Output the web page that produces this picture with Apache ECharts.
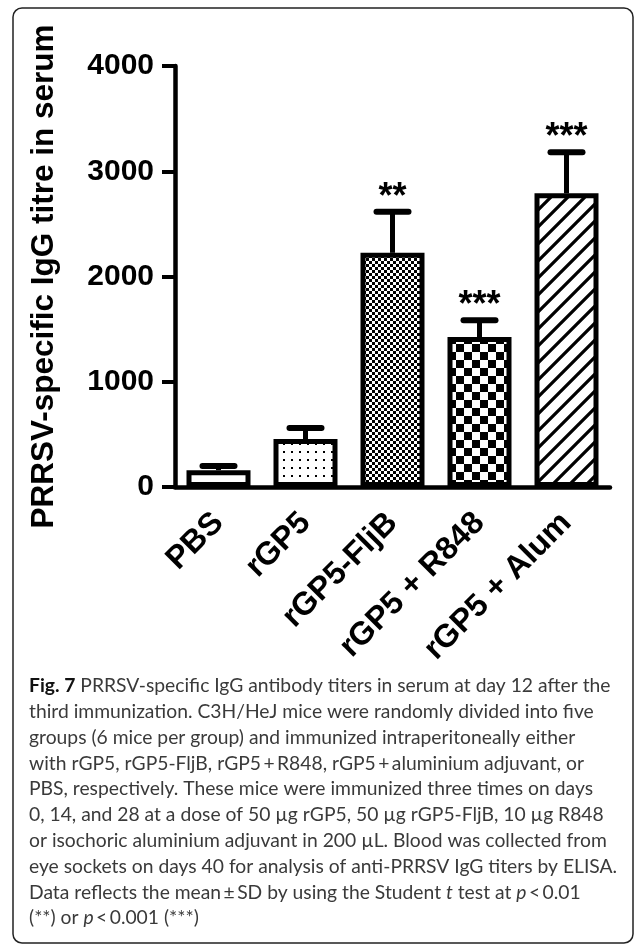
<!DOCTYPE html>
<html><head><meta charset="utf-8">
<script src="https://cdn.jsdelivr.net/npm/echarts@6/dist/echarts.min.js"></script>
<style>html,body{margin:0;padding:0;background:#fff}#c{width:634px;height:947px}</style>
</head><body><div id="c"></div>
<script>
// ---- data ----
const categories = ['PBS', 'rGP5', 'rGP5-FljB', 'rGP5 + R848', 'rGP5 + Alum'];
const means = [160, 455, 2225, 1425, 2790];
const sds = [40, 105, 390, 160, 390];
const stars = ['', '', '**', '***', '***'];
const yTickValues = [0, 1000, 2000, 3000, 4000];
const yAxisTitle = 'PRRSV-specific IgG titre in serum';
const captionLines = [
  '{b|Fig. 7} PRRSV-specific IgG antibody titers in serum at day 12 after the',
  'third immunization. C3H/HeJ mice were randomly divided into five',
  'groups (6 mice per group) and immunized intraperitoneally either',
  'with rGP5, rGP5-FljB, rGP5\u2009+\u2009R848, rGP5\u2009+\u2009aluminium adjuvant, or',
  'PBS, respectively. These mice were immunized three times on days',
  '0, 14, and 28 at a dose of 50 \u00b5g rGP5, 50 \u00b5g rGP5-FljB, 10 \u00b5g R848',
  'or isochoric aluminium adjuvant in 200 \u00b5L. Blood was collected from',
  'eye sockets on days 40 for analysis of anti-PRRSV IgG titers by ELISA.',
  'Data reflects the mean\u2009\u00b1\u2009SD by using the Student {i|t} test at {i|p}\u2009<\u20090.01',
  '(**) or {i|p}\u2009<\u20090.001 (***)'
];

// ---- patterns (styles) ----
function makePattern(kind) {
  const c = document.createElement('canvas');
  let ctx;
  if (kind === 'none') { return '#ffffff'; }
  if (kind === 'dots') {
    c.width = 8; c.height = 8; ctx = c.getContext('2d');
    ctx.fillStyle = '#fff'; ctx.fillRect(0, 0, 8, 8);
    ctx.fillStyle = '#000'; ctx.fillRect(3, 3, 2, 2);
  } else if (kind === 'fine') {
    c.width = 6; c.height = 6; ctx = c.getContext('2d');
    ctx.fillStyle = '#fff'; ctx.fillRect(0, 0, 6, 6);
    ctx.fillStyle = '#000'; ctx.fillRect(0, 0, 3, 3); ctx.fillRect(3, 3, 3, 3);
  } else if (kind === 'coarse') {
    c.width = 16; c.height = 16; ctx = c.getContext('2d');
    ctx.fillStyle = '#fff'; ctx.fillRect(0, 0, 16, 16);
    ctx.fillStyle = '#000'; ctx.fillRect(0, 0, 8, 8); ctx.fillRect(8, 8, 8, 8);
  } else if (kind === 'hatch') {
    const s = 17;
    c.width = s; c.height = s; ctx = c.getContext('2d');
    ctx.fillStyle = '#fff'; ctx.fillRect(0, 0, s, s);
    ctx.strokeStyle = '#000'; ctx.lineWidth = 3.2;
    ctx.beginPath();
    ctx.moveTo(-2, s + 2); ctx.lineTo(s + 2, -2);
    ctx.moveTo(-2 - s, s + 2); ctx.lineTo(2, -2);
    ctx.moveTo(s - 2, s + 2); ctx.lineTo(2 * s + 2, -2);
    ctx.stroke();
  }
  return { image: c, repeat: 'repeat' };
}
const patternKinds = ['none', 'dots', 'fine', 'coarse', 'hatch'];

const chart = echarts.init(document.getElementById('c'), null, { renderer: 'canvas' });

const FONT = 'Liberation Sans, Arial, sans-serif';
const capFont = 'Lato';
const capSize = 19.3;

const captionGraphics = captionLines.map((t, k) => ({
  type: 'text',
  x: 29,
  y: 686 + k * 25.8,
  style: {
    text: t,
    fontFamily: capFont,
    fontSize: capSize,
    fill: '#3a3a3a',
    verticalAlign: 'middle',
    rich: {
      b: { fontFamily: capFont, fontSize: capSize, fontWeight: 'bold', fill: '#111' },
      i: { fontFamily: capFont, fontSize: capSize, fontStyle: 'italic', fill: '#3a3a3a' }
    }
  }
}));

const option = {
  animation: false,
  backgroundColor: '#fff',
  grid: { left: 175, right: 24, top: 66, bottom: 460, containLabel: false, outerBoundsMode: 'none' },
  xAxis: {
    type: 'category',
    data: categories,
    axisLine: { lineStyle: { color: '#000', width: 4.5 } },
    axisTick: { alignWithLabel: true, length: 13, lineStyle: { color: '#000', width: 4 } },
    axisLabel: {
      rotate: 45, interval: 0, margin: 31,
      fontFamily: FONT, fontWeight: 'bold', fontSize: 32, color: '#000'
    }
  },
  yAxis: {
    type: 'value',
    min: 0, max: 4000, interval: 1000,
    name: yAxisTitle,
    nameLocation: 'middle',
    nameRotate: 90,
    nameGap: 115,
    nameTextStyle: { fontFamily: FONT, fontWeight: 'bold', fontSize: 31.5, color: '#000' },
    splitLine: { show: false },
    axisLine: { show: true, lineStyle: { color: '#000', width: 4.5 } },
    axisTick: { show: true, length: 13, lineStyle: { color: '#000', width: 4 } },
    axisLabel: {
      margin: 21, fontFamily: FONT, fontWeight: 'bold', fontSize: 30, color: '#000',
      formatter: function (v) { return String(v); },
      customValues: yTickValues
    }
  },
  series: [
    {
      type: 'bar',
      barWidth: 64,
      z: 2,
      data: means.map((v, i) => ({
        value: v,
        itemStyle: { color: makePattern(patternKinds[i]), borderColor: '#000', borderWidth: 5 }
      }))
    },
    {
      type: 'custom',
      z: 3,
      data: means.map((v, i) => [i, v, v + sds[i]]),
      renderItem: function (params, api) {
        const i = api.value(0);
        const p0 = api.coord([i, api.value(1)]);
        const p1 = api.coord([i, api.value(2)]);
        const capHalf = 16;
        const s = stars[params.dataIndex];
        return {
          type: 'group',
          children: [
            { type: 'line', shape: { x1: p0[0], y1: p0[1], x2: p1[0], y2: p1[1] }, style: { stroke: '#000', lineWidth: 5 } },
            { type: 'line', shape: { x1: p1[0] - capHalf, y1: p1[1], x2: p1[0] + capHalf, y2: p1[1] }, style: { stroke: '#000', lineWidth: 6, lineCap: 'round' } },
            { type: 'text', x: p1[0], y: p1[1] - 14, style: { text: s, fontFamily: FONT, fontWeight: 'bold', fontSize: 36, fill: '#000', align: 'center', verticalAlign: 'middle' } }
          ]
        };
      }
    }
  ],
  graphic: [
    { type: 'rect', shape: { x: 13, y: 8, width: 620, height: 935, r: 9 }, style: { fill: 'none', stroke: '#222', lineWidth: 1.5 }, z: 0 }
  ].concat(captionGraphics)
};
chart.setOption(option);
</script>
</body></html>
